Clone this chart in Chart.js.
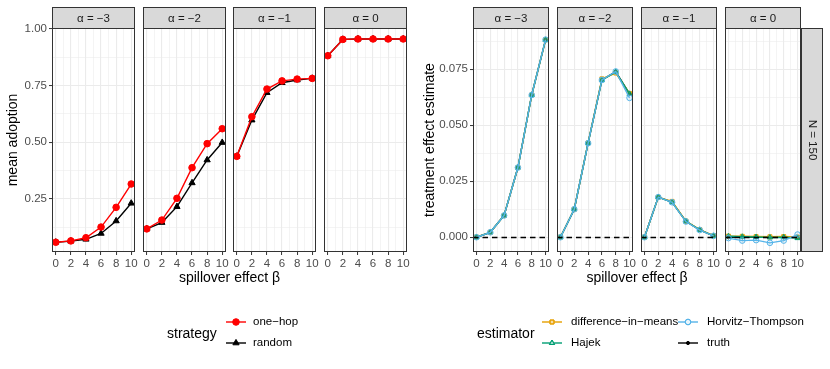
<!DOCTYPE html>
<html>
<head>
<meta charset="utf-8">
<script src="https://cdn.jsdelivr.net/npm/chart.js@4.4.0/dist/chart.umd.min.js"></script>
<style>
  body { margin: 0; background: #fff; }
  #fig { position: relative; width: 830px; height: 369px; overflow: hidden; font-family: "Liberation Sans", Arial, sans-serif; }
  #fig canvas { position: absolute; }
  .txt { position: absolute; white-space: nowrap; color: #000; line-height: 1; transform: translateY(-50%); }
</style>
</head>
<body>
<div id="fig"></div>
<script>
// ---- data ----
const betas = [0, 2, 4, 6, 8, 10];
const alphaLabels = ['α = −3', 'α = −2', 'α = −1', 'α = 0'];

// mean adoption, one panel per alpha
const oneHop = [
  [0.059, 0.065, 0.079, 0.126, 0.213, 0.316],
  [0.118, 0.157, 0.253, 0.388, 0.494, 0.560],
  [0.438, 0.613, 0.735, 0.771, 0.779, 0.782],
  [0.882, 0.954, 0.956, 0.956, 0.956, 0.956]
];
const random = [
  [0.059, 0.064, 0.072, 0.098, 0.153, 0.231],
  [0.118, 0.146, 0.216, 0.321, 0.422, 0.499],
  [0.438, 0.598, 0.719, 0.763, 0.775, 0.782],
  [0.882, 0.954, 0.956, 0.956, 0.956, 0.956]
];

// treatment effect estimates
const truth = [
  [0, 0.0022, 0.0097, 0.0311, 0.0635, 0.0881],
  [0, 0.0125, 0.0420, 0.0702, 0.0739, 0.0640],
  [0, 0.0179, 0.0157, 0.0071, 0.0033, 0.0006],
  [0, 0, 0, 0, 0, 0]
];
const diffInMeans = [
  [0.0001, 0.0022, 0.0097, 0.0311, 0.0635, 0.0881],
  [0.0001, 0.0125, 0.0421, 0.0707, 0.0733, 0.0642],
  [0.0001, 0.0178, 0.0160, 0.0072, 0.0034, 0.0007],
  [0.0005, 0.0004, 0.0003, 0.0002, 0.0003, 0.0001]
];
const hajek = [
  [0, 0.0022, 0.0097, 0.0311, 0.0635, 0.0881],
  [0, 0.0125, 0.0420, 0.0701, 0.0738, 0.0640],
  [0, 0.0179, 0.0156, 0.0071, 0.0033, 0.0006],
  [0.0004, 0.0002, 0.0001, -0.0001, 0.0000, -0.0004]
];
const horvitzThompson = [
  [0, 0.0022, 0.0097, 0.0311, 0.0635, 0.0882],
  [0, 0.0125, 0.0420, 0.0702, 0.0740, 0.0622],
  [0, 0.0179, 0.0156, 0.0070, 0.0032, 0.0006],
  [-0.0004, -0.0015, -0.0013, -0.0025, -0.0015, 0.0012]
];

// ticks
const xTicks = [0, 1, 2, 3, 4, 5, 6, 7, 8, 9, 10];
const xMajor = [0, 2, 4, 6, 8, 10];
const adoptionTicks = [0.125, 0.25, 0.375, 0.5, 0.625, 0.75, 0.875, 1.0];
const adoptionMajor = [0.25, 0.5, 0.75, 1.0];
const effectTicks = [0, 0.0125, 0.025, 0.0375, 0.05, 0.0625, 0.075, 0.0875];
const effectMajor = [0, 0.025, 0.05, 0.075];

// ---- layout ----
const FONT = '"Liberation Sans", Arial, sans-serif';
const AXIS_W = 56, STRIP_TOP = 7, PANEL_TOP = 28, CANVAS_H = 290, XAXIS_H = 38;
const leftPanelX = [52, 143, 233, 324], leftPanelW = 83;
const rightPanelX = [473, 557, 641, 725], rightPanelW = 76;

Chart.defaults.font.family = FONT;
Chart.defaults.animation = false;

const fig = document.getElementById('fig');

function addCanvas(left, top, w, h) {
  const c = document.createElement('canvas');
  c.width = w; c.height = h;
  c.style.left = left + 'px'; c.style.top = top + 'px';
  c.style.width = w + 'px'; c.style.height = h + 'px';
  fig.appendChild(c);
  return c;
}

function addText(text, x, y, size, align) {
  const d = document.createElement('div');
  d.className = 'txt';
  d.textContent = text;
  d.style.fontSize = size + 'px';
  d.style.top = y + 'px';
  d.style.left = x + 'px';
  if (align === 'center') d.style.transform = 'translate(-50%, -50%)';
  fig.appendChild(d);
}

function toXY(vals) {
  return betas.map((b, i) => ({ x: b, y: vals[i] }));
}

// strips, panel border, dashed reference line
function makeDecor(o) {
  return {
    id: 'decor',
    afterDatasetsDraw(chart) {
      if (o.hline === undefined) return;
      const a = chart.chartArea, ctx = chart.ctx;
      const y = Math.round(chart.scales.y.getPixelForValue(o.hline)) + 0.5;
      ctx.save();
      ctx.strokeStyle = '#000';
      ctx.lineWidth = 1.3;
      ctx.setLineDash([5.5, 4]);
      ctx.beginPath();
      ctx.moveTo(a.left, y);
      ctx.lineTo(a.right, y);
      ctx.stroke();
      ctx.restore();
    },
    afterDraw(chart) {
      const a = chart.chartArea, ctx = chart.ctx;
      ctx.save();
      ctx.strokeStyle = '#333333';
      ctx.lineWidth = 1;
      ctx.strokeRect(a.left + 0.5, a.top + 0.5, a.width - 1, a.height - 1);

      ctx.fillStyle = '#D9D9D9';
      ctx.fillRect(a.left, STRIP_TOP, a.width, a.top - STRIP_TOP);
      ctx.strokeRect(a.left + 0.5, STRIP_TOP + 0.5, a.width - 1, a.top - STRIP_TOP);
      ctx.fillStyle = '#1A1A1A';
      ctx.font = '11.5px ' + FONT;
      ctx.textAlign = 'center';
      ctx.textBaseline = 'middle';
      ctx.fillText(o.strip, (a.left + a.right) / 2, (STRIP_TOP + a.top) / 2 + 1);

      if (o.sideStrip) {
        const sw = 22;
        ctx.fillStyle = '#D9D9D9';
        ctx.fillRect(a.right, a.top, sw, a.height);
        ctx.strokeRect(a.right + 0.5, a.top + 0.5, sw - 1, a.height - 1);
        ctx.fillStyle = '#1A1A1A';
        ctx.translate(a.right + sw / 2, (a.top + a.bottom) / 2);
        ctx.rotate(Math.PI / 2);
        ctx.fillText(o.sideStrip, 0, 0);
      }
      ctx.restore();
    }
  };
}

function panelChart(o) {
  const c = addCanvas(o.x - AXIS_W, 0, AXIS_W + o.w + 30, CANVAS_H);
  const xMaj = new Set(xMajor);
  const yMaj = new Set(o.yMajor);
  new Chart(c, {
    type: 'line',
    data: { datasets: o.datasets },
    options: {
      responsive: false,
      events: [],
      layout: { padding: { top: PANEL_TOP, right: 30, left: 0, bottom: 0 } },
      plugins: { legend: { display: false }, tooltip: { enabled: false } },
      elements: { line: { tension: 0 } },
      scales: {
        x: {
          type: 'linear',
          min: -0.5,
          max: 10.5,
          afterBuildTicks: (s) => { s.ticks = xTicks.map(v => ({ value: v })); },
          afterFit: (s) => { s.height = XAXIS_H; },
          border: { display: false },
          grid: {
            color: '#EBEBEB',
            lineWidth: (ctx) => (ctx.tick && xMaj.has(ctx.tick.value)) ? 1.1 : 0.55,
            tickColor: (ctx) => (ctx.tick && xMaj.has(ctx.tick.value)) ? '#333333' : 'rgba(0,0,0,0)',
            tickWidth: 1,
            tickLength: 3
          },
          ticks: {
            autoSkip: false,
            maxRotation: 0,
            padding: 2,
            color: '#4D4D4D',
            font: { size: 11.5 },
            callback: (v) => xMaj.has(v) ? String(v) : ''
          }
        },
        y: {
          type: 'linear',
          min: o.yMin,
          max: o.yMax,
          afterBuildTicks: (s) => { s.ticks = o.yTicks.map(v => ({ value: v })); },
          afterFit: (s) => { s.width = AXIS_W; },
          border: { display: false },
          grid: {
            color: '#EBEBEB',
            lineWidth: (ctx) => (ctx.tick && yMaj.has(ctx.tick.value)) ? 1.1 : 0.55,
            tickColor: (ctx) => (ctx.tick && yMaj.has(ctx.tick.value)) ? '#333333' : 'rgba(0,0,0,0)',
            tickWidth: 1,
            tickLength: 3,
            drawTicks: o.showY
          },
          ticks: {
            display: o.showY,
            autoSkip: false,
            padding: 2,
            color: '#4D4D4D',
            font: { size: 11.5 },
            callback: (v) => yMaj.has(v) ? v.toFixed(o.digits) : ''
          },
          title: {
            display: o.showY,
            text: o.yTitle,
            color: '#000',
            font: { size: 14 },
            padding: { top: o.titlePad, bottom: 0 }
          }
        }
      }
    },
    plugins: [makeDecor(o)]
  });
}

// ---- left plot: mean adoption ----
// Chart.js paints dataset 0 last, so the one drawn on top comes first
leftPanelX.forEach((px, i) => {
  panelChart({
    x: px, w: leftPanelW,
    yMin: 0.016, yMax: 1.0044,
    yTicks: adoptionTicks, yMajor: adoptionMajor, digits: 2,
    showY: i === 0, yTitle: 'mean adoption', titlePad: 8.6,
    strip: alphaLabels[i],
    datasets: [
      {
        label: 'one-hop', data: toXY(oneHop[i]),
        borderColor: '#FF0000', backgroundColor: '#FF0000', borderWidth: 1.4,
        pointStyle: 'circle', pointRadius: 3.3, pointBorderWidth: 1
      },
      {
        label: 'random', data: toXY(random[i]),
        borderColor: '#000', backgroundColor: '#000', borderWidth: 1.4,
        pointStyle: 'triangle', pointRadius: 3.6, pointBorderWidth: 1
      }
    ]
  });
});
addText('spillover effect β', (leftPanelX[0] + leftPanelX[3] + leftPanelW) / 2, 277, 14, 'center');

// ---- right plot: treatment effect estimate ----
const estimators = [
  { label: 'Horvitz-Thompson', data: horvitzThompson, color: '#56B4E9', fill: 'rgba(86,180,233,0.12)', style: 'circle', r: 2.8 },
  { label: 'Hajek', data: hajek, color: '#009E73', fill: 'rgba(0,158,115,0.35)', style: 'triangle', r: 3.0 },
  { label: 'difference-in-means', data: diffInMeans, color: '#E69F00', fill: 'rgba(230,159,0,0.35)', style: 'rect', r: 2.8 },
  { label: 'truth', data: truth, color: '#000000', fill: '#000000', style: 'circle', r: 1.6 }
];

rightPanelX.forEach((px, i) => {
  panelChart({
    x: px, w: rightPanelW,
    yMin: -0.0066, yMax: 0.0934,
    yTicks: effectTicks, yMajor: effectMajor, digits: 3,
    showY: i === 0, yTitle: 'treatment effect estimate', titlePad: 4.6,
    strip: alphaLabels[i],
    sideStrip: i === 3 ? 'N = 150' : null,
    hline: 0,
    datasets: estimators.map(e => ({
      label: e.label, data: toXY(e.data[i]),
      borderColor: e.color, backgroundColor: e.fill, pointBorderColor: e.color,
      borderWidth: 1.4, pointStyle: e.style, pointRadius: e.r, pointBorderWidth: 1
    }))
  });
});
addText('spillover effect β', (rightPanelX[0] + rightPanelX[3] + rightPanelW) / 2, 277, 14, 'center');

// ---- legends ----
function legendKey(x, y, color, fill, style, r) {
  const c = addCanvas(x, y - 7, 20, 14);
  const ctx = c.getContext('2d');
  ctx.strokeStyle = color;
  ctx.lineWidth = 1.4;
  ctx.beginPath();
  ctx.moveTo(0, 7);
  ctx.lineTo(20, 7);
  ctx.stroke();
  ctx.fillStyle = '#fff';
  ctx.lineWidth = 1;
  const opts = { pointStyle: style, radius: r, rotation: 0, borderWidth: 1 };
  if (fill !== color) Chart.helpers.drawPoint(ctx, opts, 10, 7);
  ctx.fillStyle = fill;
  Chart.helpers.drawPoint(ctx, opts, 10, 7);
}

addText('strategy', 167, 333, 14);
legendKey(226, 322, '#FF0000', '#FF0000', 'circle', 3.3);
addText('one−hop', 253, 322, 11.5);
legendKey(226, 343, '#000000', '#000000', 'triangle', 3.6);
addText('random', 253, 343, 11.5);

addText('estimator', 477, 333, 14);
legendKey(542, 322, '#E69F00', 'rgba(230,159,0,0.35)', 'rect', 2.8);
addText('difference−in−means', 571, 322, 11.5);
legendKey(542, 343, '#009E73', 'rgba(0,158,115,0.35)', 'triangle', 3.0);
addText('Hajek', 571, 343, 11.5);
legendKey(678, 322, '#56B4E9', 'rgba(86,180,233,0.12)', 'circle', 2.8);
addText('Horvitz−Thompson', 707, 322, 11.5);
legendKey(678, 343, '#000000', '#000000', 'circle', 1.6);
addText('truth', 707, 343, 11.5);
</script>
</body>
</html>
